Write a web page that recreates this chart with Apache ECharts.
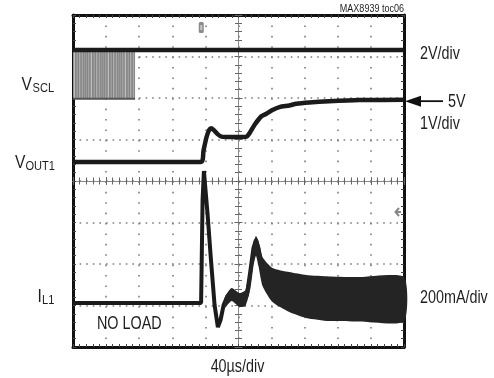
<!DOCTYPE html>
<html>
<head>
<meta charset="utf-8">
<script src="https://cdn.jsdelivr.net/npm/echarts@6/dist/echarts.min.js"></script>
<style>
  html, body { margin: 0; padding: 0; background: #fff; }
  #c { width: 494px; height: 378px; }
</style>
</head>
<body>
<div id="c"></div>
<script>
// Time base: 40 us/div, 10 divisions across the screen
const timeSpan = [0, 400];            // us
const timePerDiv = 40;                // us
const triggerTime = 155;              // us

// VSCL (2 V/div): clock burst until sclBurstEnd, then held high
const sclBurstEnd = 75;               // us
const sclLevels = [0, 2.35];          // V (low, high)

// VOUT1 (1 V/div)
const voutTime  = [0, 154.8, 157.8, 161.4, 164.5, 167.1, 169.9, 174.7, 179.5, 189.2, 201.2, 209.6, 213.3, 219.3, 227.7, 233.7, 241.0, 249.4, 261.4, 269.9, 285.5, 309.6, 345.8, 400];
const voutVolts = [3.50, 3.50, 3.78, 4.10, 4.27, 4.31, 4.27, 4.17, 4.11, 4.10, 4.10, 4.11, 4.19, 4.39, 4.60, 4.66, 4.75, 4.82, 4.86, 4.90, 4.93, 4.96, 4.99, 5.00];

// IL1 (200 mA/div), trace centre
const ilTime = [0, 154.8, 156.6, 158.2, 159.6, 162.7, 166.9, 171.1, 175.1, 178.3, 182.0, 186.7, 191.6, 196.4, 201.2, 206.0, 210.2, 214.5, 218.1, 221.1, 224.1, 229.0, 237.5, 249.4, 261.4, 273.5, 309.6, 400];
const ilMilliamps = [0, 0, 496, 636, 569, 424, 198, -10, -116, -82, -10, 34, 48, 29, 14, 5, 39, 159, 265, 304, 265, 159, 96, 53, 39, 29, 19, 19];

// IL1 switching ripple envelope
const rippleTime   = [183.1, 191.6, 201.2, 208.4, 214.5, 218.1, 221.1, 224.1, 229.0, 241.0, 261.4, 281.9, 309.6, 345.8, 400];
const rippleTop    = [24, 72, 48, 63, 198, 289, 323, 299, 222, 169, 149, 135, 128, 125, 125];
const rippleBottom = [-24, 10, -19, -14, 72, 178, 226, 178, 82, 5, -43, -72, -87, -89, -89];

// Channel scale and ground position (divisions from screen centre)
const channels = {
  scl:  { perDiv: 2,   zeroDiv: 1.98 },
  vout: { perDiv: 1,   zeroDiv: -3.04 },
  il:   { perDiv: 200, zeroDiv: -2.94 }
};
const toDiv = (ch, v) => ch.zeroDiv + v / ch.perDiv;

const FONT = '"Liberation Sans", Arial, sans-serif';
const NARROW = 0.82;
const INK = '#1b1b1b';
const GRID = { left: 73, top: 15, width: 331, height: 332 };

// Border of the screen with inward minor ticks
function frameAxis(dim, pos) {
  const isX = dim === 'x';
  return {
    gridIndex: 0, type: 'value', position: pos,
    min: isX ? -5 : -4, max: isX ? 5 : 4, interval: 1,
    axisLine: { show: true, onZero: false, lineStyle: { color: '#111', width: 3 } },
    axisTick: { show: true, inside: true, length: 3, lineStyle: { color: '#444', width: 1 } },
    minorTick: { show: true, splitNumber: 5, length: 3, lineStyle: { color: '#444', width: 1 } },
    axisLabel: { show: false },
    splitLine: { show: false }
  };
}
// Centre cross of the graticule, ticked on both sides
function crossAxis(dim, pos, inside) {
  const isX = dim === 'x';
  return {
    gridIndex: 0, type: 'value', position: pos,
    min: isX ? -5 : -4, max: isX ? 5 : 4, interval: 1,
    axisLine: { show: true, onZero: true, onZeroAxisIndex: 0, lineStyle: { color: '#8a8a8a', width: 1 } },
    axisTick: { show: true, inside: inside, length: 4, lineStyle: { color: '#666', width: 1 } },
    minorTick: { show: true, splitNumber: 5, length: 3.5, lineStyle: { color: '#666', width: 1 } },
    axisLabel: { show: false },
    splitLine: { show: false }
  };
}

// Grey streaked fill for the dense clock burst
function burstPattern() {
  const shades = ['#8a8a8a', '#9a9a9a', '#868686', '#a3a3a3', '#8d8d8d', '#959595', '#bdbdbd', '#888888', '#909090', '#9e9e9e', '#838383', '#adadad', '#929292', '#8b8b8b', '#a7a7a7', '#878787', '#999999'];
  const cv = document.createElement('canvas');
  cv.width = shades.length; cv.height = 4;
  const g = cv.getContext('2d');
  shades.forEach((s, i) => { g.fillStyle = s; g.fillRect(i, 0, 1, 4); });
  return { image: cv, repeat: 'repeat' };
}

const chart = echarts.init(document.getElementById('c'));

const lineSeries = (data, width, extra) => Object.assign({
  type: 'line', xAxisIndex: 4, yAxisIndex: 4, data: data,
  showSymbol: false, symbol: 'none', silent: true, animation: false,
  lineStyle: { color: INK, width: width }, z: 4
}, extra || {});

const sclHi = toDiv(channels.scl, sclLevels[1]);
const sclLo = toDiv(channels.scl, sclLevels[0]);
const dotted = (dash) => ({ show: true, lineStyle: { color: '#7c7c7c', width: 1.6, type: dash } });

chart.setOption({
  animation: false,
  backgroundColor: '#fff',
  grid: [Object.assign({}, GRID), Object.assign({}, GRID)],
  xAxis: [
    frameAxis('x', 'bottom'),
    frameAxis('x', 'top'),
    crossAxis('x', 'bottom', true),
    crossAxis('x', 'bottom', false),
    {
      gridIndex: 1, type: 'value', min: timeSpan[0], max: timeSpan[1], interval: timePerDiv,
      axisLine: { show: false }, axisTick: { show: false }, axisLabel: { show: false },
      splitLine: dotted([1.6, 8.8])
    }
  ],
  yAxis: [
    frameAxis('y', 'left'),
    frameAxis('y', 'right'),
    crossAxis('y', 'left', true),
    crossAxis('y', 'left', false),
    {
      gridIndex: 1, type: 'value', min: -4, max: 4, interval: 1,
      axisLine: { show: false }, axisTick: { show: false }, axisLabel: { show: false },
      splitLine: dotted([1.6, 5.0])
    }
  ],
  series: [
    // SCL clock burst
    {
      type: 'custom', xAxisIndex: 4, yAxisIndex: 4, silent: true, z: 3,
      data: [[0, 0]],
      renderItem: function (params, api) {
        const a = api.coord([timeSpan[0], sclHi]);
        const b = api.coord([sclBurstEnd, sclLo]);
        return {
          type: 'rect',
          shape: { x: a[0], y: a[1], width: b[0] - a[0], height: b[1] - a[1] },
          style: { fill: burstPattern() }
        };
      }
    },
    lineSeries([[timeSpan[0], sclLo], [sclBurstEnd, sclLo]], 2, { lineStyle: { color: '#555', width: 2 } }),
    lineSeries([[timeSpan[0], sclHi], [timeSpan[1], sclHi]], 4.5),
    lineSeries(voutTime.map((t, i) => [t, toDiv(channels.vout, voutVolts[i])]), 4.5, { smooth: 0.25 }),
    lineSeries(ilTime.map((t, i) => [t, toDiv(channels.il, ilMilliamps[i])]), 4),
    // IL1 ripple band
    {
      type: 'custom', xAxisIndex: 4, yAxisIndex: 4, silent: true, z: 5,
      data: [[0, 0]],
      renderItem: function (params, api) {
        const pts = [];
        rippleTime.forEach((t, i) => pts.push(api.coord([t, toDiv(channels.il, rippleTop[i])])));
        for (let i = rippleTime.length - 1; i >= 0; i--) {
          pts.push(api.coord([rippleTime[i], toDiv(channels.il, rippleBottom[i])]));
        }
        return { type: 'polygon', shape: { points: pts, smooth: 0.2 }, style: { fill: '#242424' } };
      }
    }
  ]
});

// Annotations
const px = (t, d) => chart.convertToPixel({ gridIndex: 1 }, [t, d]);
const fiveV = px(timeSpan[1], toDiv(channels.vout, 5));
const trig = px(triggerTime, 4);
const txt = (text, x, y, size, align) => ({
  type: 'text', x: x, y: y, scaleX: NARROW, silent: true,
  style: { text: text, font: size + 'px ' + FONT, fill: '#1e1e1e', textAlign: align || 'left', textVerticalAlign: 'middle' }
});

chart.setOption({
  graphic: [
    txt('MAX8939 toc06', 404, 8.5, 11, 'right'),
    txt('2V/div', 420, 54.5, 17.5),
    txt('5V', 448, fiveV[1] + 2.5, 17.5),
    txt('1V/div', 420, 124, 17.5),
    txt('200mA/div', 420, 298.5, 17.5),
    txt('40\u00b5s/div', 237.5, 367.5, 17.5, 'center'),
    txt('NO LOAD', 97, 324, 17.5),
    txt('V', 21.5, 84.5, 19),
    txt('SCL', 32.5, 88, 13.5),
    txt('V', 15, 163, 19),
    txt('OUT1', 25.5, 166, 13.5),
    txt('I', 37.5, 297, 19),
    txt('L1', 42, 300.5, 13.5),
    // 5V arrow
    { type: 'polygon', silent: true, shape: { points: [[fiveV[0] + 1, fiveV[1] + 1.5], [fiveV[0] + 17, fiveV[1] - 4], [fiveV[0] + 17, fiveV[1] + 7]] }, style: { fill: '#111' } },
    { type: 'line', silent: true, shape: { x1: fiveV[0] + 16, y1: fiveV[1] + 1.5, x2: 443, y2: fiveV[1] + 1.5 }, style: { stroke: '#111', lineWidth: 1.8 } },
    // trigger position marker
    { type: 'rect', silent: true, shape: { x: trig[0] - 2.5, y: 22, width: 5, height: 11, r: 1.5 }, style: { fill: '#8a8a8a' } },
    { type: 'rect', silent: true, shape: { x: trig[0] - 1, y: 25, width: 2, height: 5 }, style: { fill: '#c8c8c8' } },
    // trigger level marker
    { type: 'polyline', silent: true, shape: { points: [[399, 208], [395.5, 212], [399, 216]] }, style: { stroke: '#888', lineWidth: 2, fill: null } },
    { type: 'line', silent: true, shape: { x1: 396, y1: 212, x2: 401, y2: 212 }, style: { stroke: '#888', lineWidth: 2 } }
  ]
});
</script>
</body>
</html>
